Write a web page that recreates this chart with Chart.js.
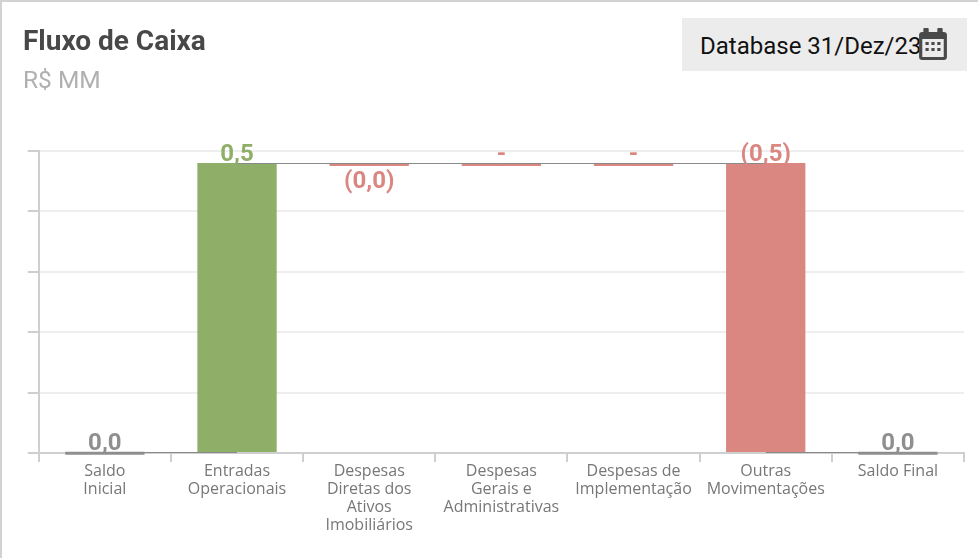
<!DOCTYPE html>
<html><head><meta charset="utf-8">
<script src="https://cdn.jsdelivr.net/npm/chart.js@4/dist/chart.umd.min.js"></script>
<style>
html,body{margin:0;padding:0;background:#fff;overflow:hidden}
#wrap{position:relative;width:978px;height:558px;box-sizing:border-box;border-left:2px solid #d2d2d2;border-top:2px solid #d2d2d2;overflow:hidden}
#c{position:absolute;left:-2px;top:-2px}
#t{position:absolute;left:21px;top:23px;font:700 28px Roboto;color:#484848;line-height:32px}
#s{position:absolute;left:21px;top:64px;font:400 24.5px Roboto;color:#b0b0b0;line-height:28px}
#b{position:absolute;left:680px;top:16px;width:285px;height:53px;background:#ececec}
#bt{position:absolute;left:18px;top:14px;font:400 24px Roboto;color:#111;line-height:28px;white-space:nowrap}
#b svg{position:absolute;left:236px;top:10px}
</style></head><body>
<div id="wrap">
<canvas id="c" width="978" height="558"></canvas>
<div id="t">Fluxo de Caixa</div>
<div id="s">R$ MM</div>
<div id="b"><div id="bt">Database 31/Dez/23</div>
<svg width="30" height="33" viewBox="0 0 28 33" preserveAspectRatio="none"><rect x="1" y="4" width="26" height="28" rx="3" fill="#4a4a4a"/><rect x="5" y="0" width="5" height="8" rx="1" fill="#4a4a4a"/><rect x="18" y="0" width="5" height="8" rx="1" fill="#4a4a4a"/><rect x="4" y="11" width="20" height="18" fill="#ececec"/><g fill="#4a4a4a"><rect x="7" y="14" width="3" height="3"/><rect x="12.5" y="14" width="3" height="3"/><rect x="18" y="14" width="3" height="3"/><rect x="7" y="20" width="3" height="3"/><rect x="12.5" y="20" width="3" height="3"/><rect x="18" y="20" width="3" height="3"/></g></svg>
</div></div>
<script>
const categories=[["Saldo","Inicial"],["Entradas","Operacionais"],["Despesas","Diretas dos","Ativos","Imobiliários"],["Despesas","Gerais e","Administrativas"],["Despesas de","Implementação"],["Outras","Movimentações"],["Saldo Final"]];
const barStarts=[-0.003,0,0.475,0.475,0.475,0,-0.003];
const barEnds=[0.002,0.48,0.48,0.48,0.48,0.48,0.002];
const connectorLevels=[0.002,0.48,0.48,0.48,0.48,0.002];
const valueLabels=["0,0","0,5","(0,0)","-","-","(0,5)","0,0"];
const labelBelow=[false,false,true,false,false,false,false];
const barColors=["#8f8f8f","#8fae68","#da8681","#da8681","#da8681","#da8681","#8f8f8f"];
const yTicks=[0,0.1,0.2,0.3,0.4,0.5];

const overlay={id:'overlay',afterDatasetsDraw(chart){
  const ctx=chart.ctx,meta=chart.getDatasetMeta(0),y=chart.scales.y;
  ctx.save();
  ctx.strokeStyle='#8a8a8a';ctx.lineWidth=1;
  connectorLevels.forEach((v,i)=>{
    const py=Math.round(y.getPixelForValue(v))+0.5;
    ctx.beginPath();ctx.moveTo(meta.data[i].x,py);ctx.lineTo(meta.data[i+1].x,py);ctx.stroke();
  });
  ctx.font='700 24px Roboto';ctx.textAlign='center';ctx.textBaseline='alphabetic';
  valueLabels.forEach((t,i)=>{
    const top=y.getPixelForValue(barEnds[i]),bottom=y.getPixelForValue(barStarts[i]);
    ctx.fillStyle=barColors[i];
    ctx.fillText(t,meta.data[i].x,labelBelow[i]?bottom+22:top-2);
  });
  ctx.restore();
}};

new Chart(document.getElementById('c'),{
  type:'bar',
  data:{labels:categories,datasets:[{
    data:barStarts.map((s,i)=>[s,barEnds[i]]),
    backgroundColor:barColors,
    barPercentage:0.6,categoryPercentage:1,
    clip:false
  }]},
  plugins:[overlay],
  options:{
    responsive:false,animation:false,
    layout:{padding:{left:27.75,right:14,top:151,bottom:0}},
    plugins:{legend:{display:false},tooltip:{enabled:false},title:{display:false}},
    scales:{
      x:{
        grid:{drawOnChartArea:false,color:'#cfcfcf',tickColor:'#cfcfcf',tickLength:9,lineWidth:2},
        border:{color:'#cfcfcf',width:2},
        ticks:{color:'#777',font:{family:'"Open Sans"',size:16,lineHeight:1.125},maxRotation:0,autoSkip:false,padding:0},
        afterFit(s){s.height=105;}
      },
      y:{
        min:0,max:0.5,
        afterBuildTicks(s){s.ticks=yTicks.map(v=>({value:v}));},
        ticks:{callback:()=>'',padding:0},
        grid:{color:'#eeeeee',tickColor:'#cfcfcf',tickLength:11,lineWidth:2},
        border:{color:'#cfcfcf',width:2},
        afterFit(s){s.width=11;}
      }
    }
  }
});
</script></body></html>
